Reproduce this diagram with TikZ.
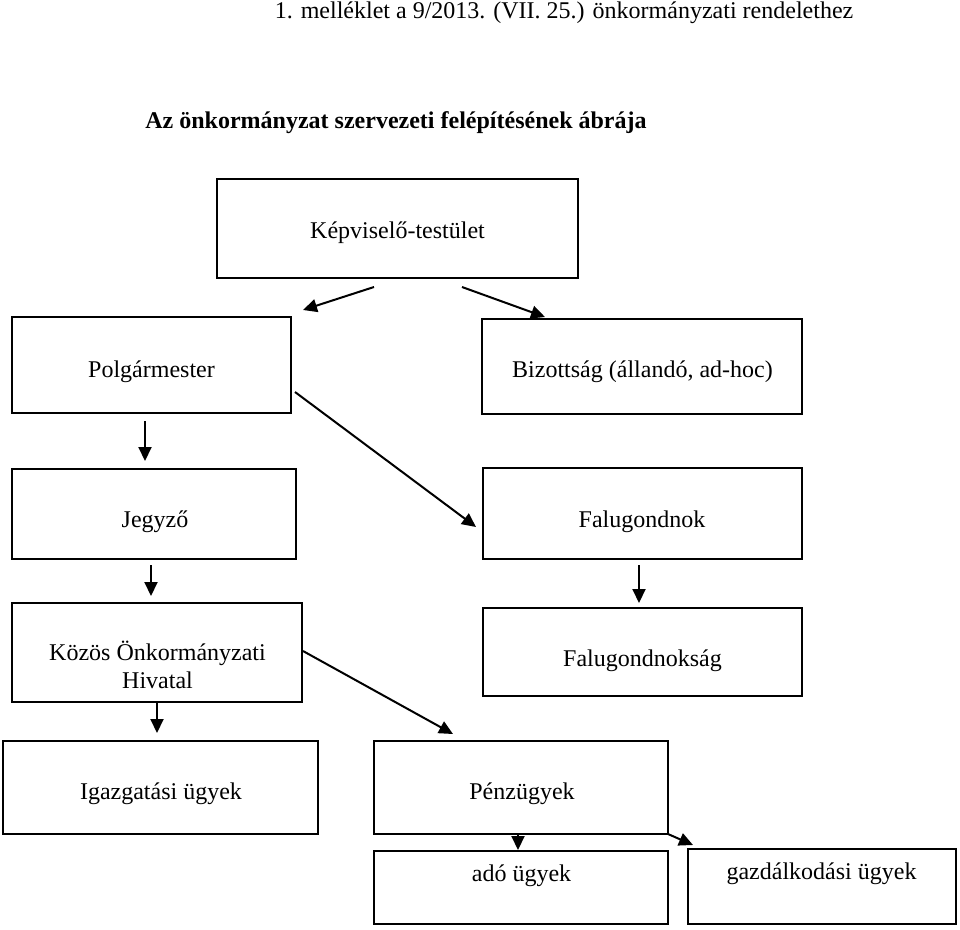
\documentclass[tikz,border=0pt]{standalone}
\usepackage{fontspec}
\setmainfont{Liberation Serif}
\usetikzlibrary{arrows.meta}
\begin{document}
\begin{tikzpicture}[x=1pt,y=-1pt,
  box/.style={draw, line width=2pt, inner sep=0pt, outer sep=0pt},
  txt/.style={font=\fontsize{24}{28}\selectfont, inner sep=0pt, anchor=base},
  arr/.style={line width=2pt, -{Triangle[length=14pt,width=13pt]}}]
\useasboundingbox (0,0) rectangle (960,929);

% header and title
\node[txt] (head) at (564,18) {1. melléklet a 9/2013. (VII. 25.) önkormányzati rendelethez};
\node[txt, font=\fontsize{24}{28}\selectfont\bfseries] (title) at (396,128) {Az önkormányzat szervezeti felépítésének ábrája};

% boxes
\node[box, minimum width=361, minimum height=99] (kt)   at (397.5,228.5) {};
\node[box, minimum width=279, minimum height=96] (pm)   at (151.5,365) {};
\node[box, minimum width=320, minimum height=95] (biz)  at (642,366.5) {};
\node[box, minimum width=284, minimum height=90] (jegy) at (154,514) {};
\node[box, minimum width=319, minimum height=91] (falu) at (642.5,513.5) {};
\node[box, minimum width=290, minimum height=99] (kozos) at (157,652.5) {};
\node[box, minimum width=319, minimum height=88] (fsag) at (642.5,652) {};
\node[box, minimum width=315, minimum height=93] (igaz) at (160.5,787.5) {};
\node[box, minimum width=294, minimum height=93] (penz) at (521,787.5) {};
\node[box, minimum width=294, minimum height=73] (ado)  at (521,887.5) {};
\node[box, minimum width=268, minimum height=75] (gazd) at (822,886.5) {};

% texts
\node[txt] (tkt)   at (397.5,238) {Képviselő-testület};
\node[txt] (tpm)   at (151.5,377) {Polgármester};
\node[txt] (tbiz)  at (642.5,377) {Bizottság (állandó, ad-hoc)};
\node[txt] (tjegy) at (155,527) {Jegyző};
\node[txt] (tfalu) at (642,527) {Falugondnok};
\node[txt] (tkoz1) at (157.5,660) {Közös Önkormányzati};
\node[txt] (tkoz2) at (157.5,688) {Hivatal};
\node[txt] (tfsag) at (642.5,666) {Falugondnokság};
\node[txt] (tigaz) at (161,799) {Igazgatási ügyek};
\node[txt] (tpenz) at (522,799) {Pénzügyek};
\node[txt] (tado)  at (521.5,881) {adó ügyek};
\node[txt] (tgazd) at (821.5,879) {gazdálkodási ügyek};

% connectors
\draw[arr] ([shift={(-23.5,9)}]kt.south) -- ([shift={(12,-7)}]pm.north east);
\draw[arr] ([shift={(64.5,9)}]kt.south) -- ([shift={(-97,-2)}]biz.north);
\draw[arr] ([shift={(-6.5,8)}]pm.south) -- ([shift={(-9,-8)}]jegy.north);
\draw[arr] ([shift={(4,27)}]pm.east) -- ([shift={(-7,13.5)}]falu.west);
\draw[arr] ([shift={(-3,6)}]jegy.south) -- ([shift={(-6,-7)}]kozos.north);
\draw[arr] (kozos.south) -- ([shift={(-3.5,-8)}]igaz.north);
\draw[arr] ([shift={(1,-1.5)}]kozos.east) -- ([shift={(79,-7)}]penz.north west);
\draw[arr] ([shift={(-3.5,6)}]falu.south) -- ([shift={(-3.5,-5)}]fsag.north);
\draw[arr] ([shift={(-3,0)}]penz.south) -- ([shift={(-3,-1)}]ado.north);
\draw[arr] (penz.south east) -- ([shift={(5,-4)}]gazd.north west);
\end{tikzpicture}
\end{document}
